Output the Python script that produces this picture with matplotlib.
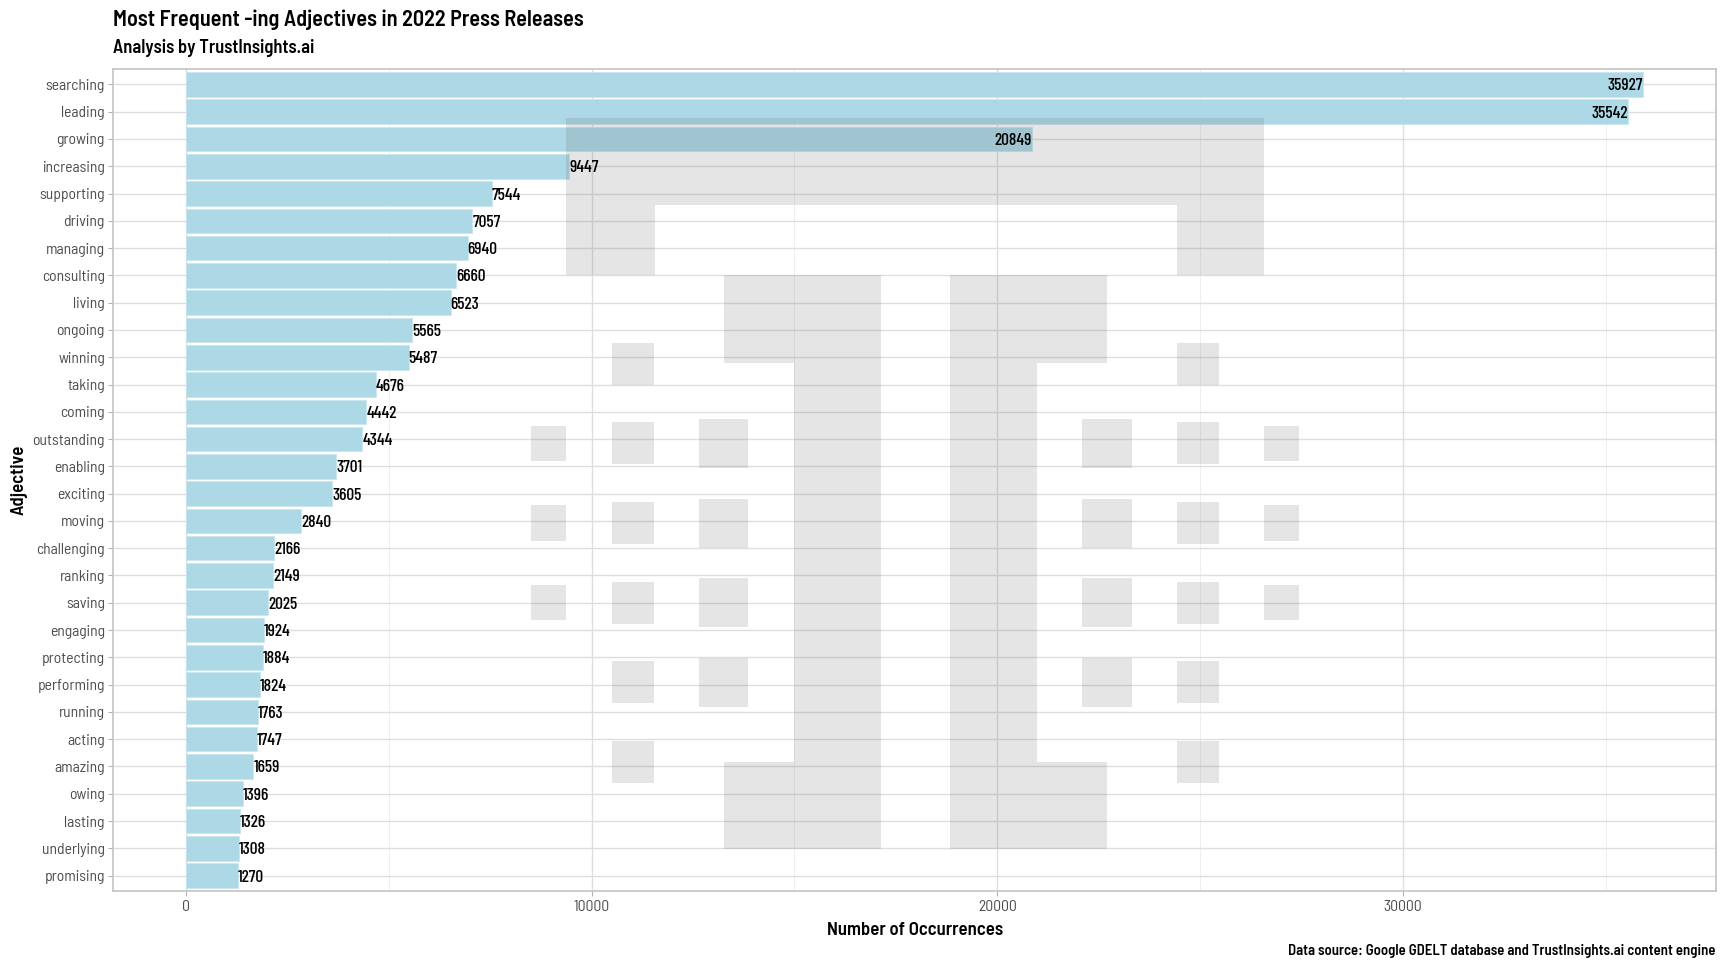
import matplotlib
matplotlib.use("Agg")
import matplotlib.pyplot as plt
from matplotlib import font_manager as fm
from matplotlib.path import Path
from matplotlib.patches import PathPatch
from matplotlib.transforms import Affine2D
from matplotlib.ticker import MultipleLocator

# ---------------- data ----------------
adjectives = ["searching", "leading", "growing", "increasing", "supporting", "driving",
              "managing", "consulting", "living", "ongoing", "winning", "taking", "coming",
              "outstanding", "enabling", "exciting", "moving", "challenging", "ranking",
              "saving", "engaging", "protecting", "performing", "running", "acting",
              "amazing", "owing", "lasting", "underlying", "promising"]
counts = [35927, 35542, 20849, 9447, 7544, 7057, 6940, 6660, 6523, 5565, 5487, 4676,
          4442, 4344, 3701, 3605, 2840, 2166, 2149, 2025, 1924, 1884, 1824, 1763, 1747,
          1659, 1396, 1326, 1308, 1270]
x_ticks = [0, 10000, 20000, 30000]
title = "Most Frequent -ing Adjectives in 2022 Press Releases"
subtitle = "Analysis by TrustInsights.ai"
caption = "Data source: Google GDELT database and TrustInsights.ai content engine"
x_title = "Number of Occurrences"
y_title = "Adjective"

# ---------------- fonts ----------------
available = {f.name for f in fm.fontManager.ttflist}
family = "DejaVu Sans"
for cand in ["Barlow Semi Condensed", "Barlow Condensed", "Roboto Condensed",
             "Liberation Sans Narrow", "Open Sans Condensed"]:
    if cand in available:
        family = cand
        break
label_family = "Barlow Condensed" if "Barlow Condensed" in available else family
plt.rcParams["font.family"] = [family, "DejaVu Sans"]

W, H, DPI = 1728, 972, 100
fig = plt.figure(figsize=(W / DPI, H / DPI), dpi=DPI, facecolor="white")
L, R, T, B = 113.3, 1716, 68.7, 891.3
ax = fig.add_axes([L / W, 1 - B / H, (R - L) / W, (B - T) / H])

n = len(adjectives)
ypos = list(range(n - 1, -1, -1))
ax.barh(ypos, counts, height=0.9, color="#ADD8E6", edgecolor="#C8E6EF",
        linewidth=0.6, zorder=2)

xmax = max(counts)
pad = 0.05 * xmax
ax.set_xlim(-pad, xmax + pad)
ax.set_ylim(-0.575, n - 1 + 0.575)
mid = xmax / 2
for y, v in zip(ypos, counts):
    ha = "right" if v > mid else "left"
    ax.text(v, y, str(v), ha=ha, va="center_baseline", fontsize=12.5, color="black",
            fontweight="medium", family=[label_family, "DejaVu Sans"], zorder=4)

ax.set_yticks(ypos)
ax.set_yticklabels(adjectives)
ax.set_xticks(x_ticks)
ax.set_xticklabels([str(t) for t in x_ticks])
ax.xaxis.set_minor_locator(MultipleLocator(5000))
ax.tick_params(axis="y", which="major", labelsize=11.2, labelcolor="#4D4D4D",
               color="#B3B3B3", length=3.6, width=0.8, pad=2.5)
ax.tick_params(axis="x", which="major", labelsize=11.2, labelcolor="#4D4D4D",
               color="#B3B3B3", length=3.6, width=0.8, pad=3)
ax.tick_params(axis="x", which="minor", length=0)
ax.set_axisbelow(True)
ax.grid(True, which="major", color="#DEDEDE", linewidth=1.0, zorder=0)
ax.grid(True, which="minor", axis="x", color="#EFEFEF", linewidth=0.7, zorder=0)
for s in ax.spines.values():
    s.set_color("#C8C8C8")
    s.set_linewidth(1.3)

# ---------------- watermark (logo) ----------------
rects = [
    (566, 1264, 118, 205), (566, 655, 205, 275), (1177, 1264, 205, 275),
    (724, 881, 275, 363), (794, 881, 363, 762), (724, 881, 762, 849),
    (950, 1107, 275, 363), (950, 1037, 363, 762), (950, 1107, 762, 849),
]
colA = [(426, 461), (505, 541), (585, 620)]
colB = [(343, 385), (422, 464), (502, 544), (582, 624), (661, 703), (741, 783)]
colC = [(419, 468), (499, 548), (578, 627), (658, 707)]
for (x0, x1), col in [((531, 566), colA), ((612, 654), colB), ((699, 748), colC),
                      ((1082, 1132), colC), ((1177, 1219), colB), ((1264, 1299), colA)]:
    for (y0, y1) in col:
        rects.append((x0, x1, y0, y1))
verts, codes = [], []
for (x0, x1, y0, y1) in rects:
    verts += [(x0, y0), (x1, y0), (x1, y1), (x0, y1), (x0, y0)]
    codes += [Path.MOVETO, Path.LINETO, Path.LINETO, Path.LINETO, Path.CLOSEPOLY]
tr = Affine2D().scale(1 / W, -1 / H).translate(0, 1) + fig.transFigure
logo = PathPatch(Path(verts, codes), facecolor="#5E5E5E", alpha=0.16,
                 edgecolor="none", transform=tr, zorder=3, clip_on=False)
ax.add_patch(logo)

# ---------------- texts ----------------
fig.text(L / W, 1 - 26 / H, title, ha="left", va="baseline", fontsize=16,
         fontweight="semibold", color="black")
fig.text(L / W, 1 - 53.3 / H, subtitle, ha="left", va="baseline", fontsize=13.3,
         fontweight="semibold", color="black")
fig.text((L + R) / 2 / W, 1 - 934.5 / H, x_title, ha="center", va="baseline",
         fontsize=13.5, fontweight="semibold", color="black")
fig.text(19 / W, 1 - (T + B) / 2 / H, y_title, ha="center", va="center",
         rotation=90, fontsize=13.5, fontweight="semibold", color="black")
fig.text(R / W, 1 - 955 / H, caption, ha="right", va="baseline", fontsize=10.6,
         fontweight="semibold", color="black")

fig.savefig("out.png", dpi=DPI, facecolor="white")
